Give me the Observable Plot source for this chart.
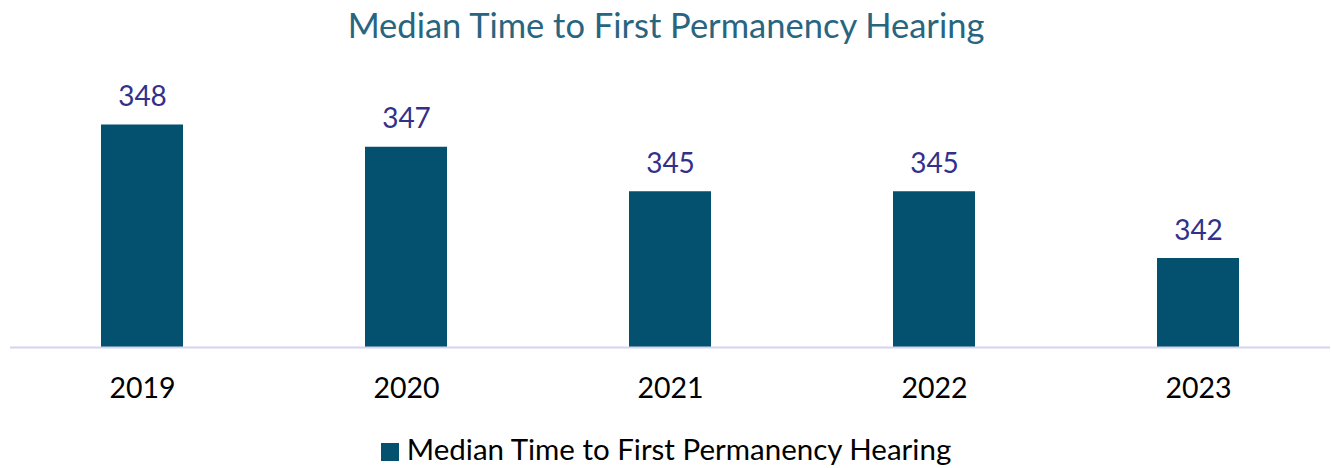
<!DOCTYPE html>
<html>
<head>
<meta charset="utf-8">
<script src="https://cdn.jsdelivr.net/npm/d3@7"></script>
<script src="https://cdn.jsdelivr.net/npm/@observablehq/plot@0.6"></script>
<style>
  body { margin: 0; background: #fff; font-family: Lato, "Open Sans", sans-serif; }
  #wrap { width: 1332px; height: 468px; position: relative; overflow: hidden; }
  #title { height: 60px; line-height: 50px; text-align: center; font-size: 34.5px; color: #286580; }
  #legend { position: absolute; left: 0; top: 431px; width: 1332px; text-align: center; font-size: 29.5px; color: #000; }
  #legend .sw { display: inline-block; width: 18px; height: 18px; background: #03506f; margin-right: 8px; vertical-align: -1px; }
</style>
</head>
<body>
<div id="wrap">
  <div id="title">Median Time to First Permanency Hearing</div>
  <div id="chart"></div>
  <div id="legend"><span class="sw"></span>Median Time to First Permanency Hearing</div>
</div>
<script>
const years = ["2019", "2020", "2021", "2022", "2023"];
const values = [348, 347, 345, 345, 342];
const data = years.map((y, i) => ({year: y, value: values[i]}));

const chart = Plot.plot({
  width: 1332,
  height: 360,
  marginLeft: 10,
  marginRight: 2,
  marginTop: 20,
  marginBottom: 73,
  style: {fontFamily: "Lato, 'Open Sans', sans-serif", background: "transparent"},
  x: {domain: years, paddingInner: 0.69, paddingOuter: 0.345, label: null},
  y: {domain: [338, 350], axis: null},
  marks: [
    Plot.barY(data, {x: "year", y1: 338, y2: "value", fill: "#03506f"}),
    Plot.ruleY([338], {stroke: "#d6d3ef", strokeWidth: 2}),
    Plot.text(data, {x: "year", y: "value", text: d => String(d.value), lineAnchor: "bottom", dy: -19, fontSize: 28, fill: "#33308a"}),
    Plot.axisX({tickSize: 0, tickPadding: 30, fontSize: 28.5, color: "#000", label: null})
  ]
});
document.getElementById("chart").appendChild(chart);
</script>
</body>
</html>
